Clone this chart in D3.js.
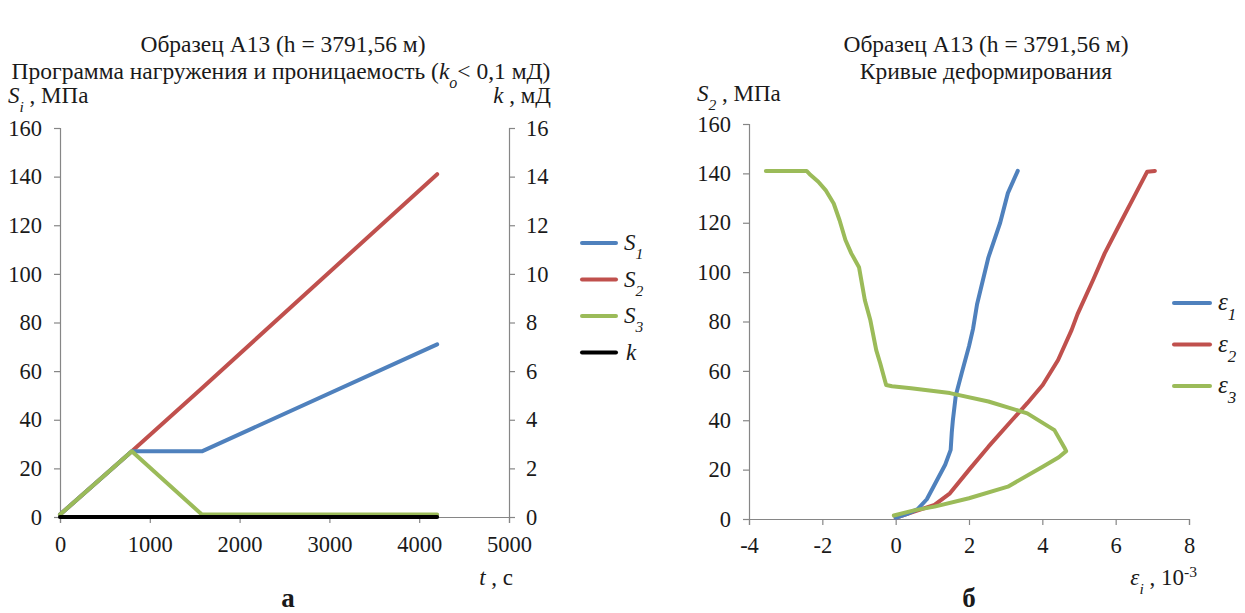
<!DOCTYPE html>
<html><head><meta charset="utf-8">
<script src="https://cdn.jsdelivr.net/npm/d3@7"></script>
</head>
<body style="margin:0;background:#fff"><svg id="c" width="1245" height="613" style="background:#fff"></svg>
<script>
// ---- Left chart data: loading program ----
const timeS = [0, 800, 1580, 4200];
const s1Vals = [1, 27, 27, 71];
const s2Vals = [1, 27, 53, 141];
const s3Vals = [1, 27, 1, 1];
const timeK = [0, 4200];
const kVals = [0, 0];
const tTicks = [0, 1000, 2000, 3000, 4000, 5000];
const sTicks = [0, 20, 40, 60, 80, 100, 120, 140, 160];
const kTicks = [0, 2, 4, 6, 8, 10, 12, 14, 16];

// ---- Right chart data: deformation curves ----
const eps1X = [0, 0.3, 0.6, 0.85, 1.1, 1.35, 1.5, 1.53, 1.56, 1.64, 1.8, 2.0, 2.11, 2.22, 2.53, 2.85, 3.06, 3.33];
const eps1Y = [0.5, 2, 4, 8, 15, 22, 28, 35, 40, 50, 59, 70, 77, 87, 106, 120, 132, 141];
const eps2X = [0, 0.5, 1.06, 1.48, 2.0, 2.53, 3.17, 3.59, 4.01, 4.43, 4.8, 4.96, 5.39, 5.7, 6.12, 6.55, 6.86, 7.07];
const eps2Y = [0.5, 3, 5.7, 10.4, 19.9, 29.3, 40, 46.9, 54.3, 64.4, 76.6, 83, 97, 107.6, 119.7, 131.9, 140.7, 141];
const eps3X = [-0.05, 0.5, 1.06, 2.0, 3.06, 4.01, 4.45, 4.65, 4.6, 4.33, 3.59, 2.53, 1.48, 0.42, -0.1, -0.26, -0.42, -0.53, -0.69, -0.84, -1.0, -1.21, -1.37, -1.53, -1.69, -1.9, -2.11, -2.32, -2.43, -3.54];
const eps3Y = [1.4, 3.5, 5, 8.4, 13.1, 21.2, 25, 27.5, 29, 36, 42.8, 47.6, 51, 53, 53.8, 54.3, 63, 68.4, 80.5, 88.6, 102, 107.6, 113, 121, 127.8, 133, 136.6, 139.3, 141, 141];
const epsTicks = [-4, -2, 0, 2, 4, 6, 8];

const C_BLUE = "#4F81BD", C_RED = "#C0504D", C_GREEN = "#9BBB59", C_BLACK = "#000";
const AXIS = "#868686";
const FONT = "'Liberation Serif'";
const TICK_FS = 22.5;
const svg = d3.select("#c");

function styleAxis(g){
  g.attr("font-family", null).attr("font-size", null);
  g.selectAll("path.domain").attr("stroke", AXIS).attr("stroke-width", 1.2);
  g.selectAll(".tick line").attr("stroke", AXIS).attr("stroke-width", 1.2);
  g.selectAll(".tick text").style("font-family", FONT).style("font-size", TICK_FS + "px").attr("fill", "#1a1a1a");
}
function addText(x, y, parts, anchor, size){
  size = size || 23;
  const t = svg.append("text").attr("x", x).attr("y", y).attr("text-anchor", anchor || "start")
    .style("font-family", FONT).style("font-size", size + "px").attr("fill", "#1a1a1a");
  parts.forEach(p => {
    const ts = t.append("tspan").text(p.t).style("font-family", FONT);
    if (p.i) ts.style("font-style", "italic");
    if (p.b) ts.style("font-weight", "bold");
    if (p.sub) ts.style("font-size", (size*0.68) + "px").attr("baseline-shift", "sub");
    if (p.sup) ts.style("font-size", (size*0.68) + "px").attr("baseline-shift", "super");
  });
  return t;
}

// ===== LEFT CHART =====
const L = {x0: 60, x1: 509, y0: 517, y1: 128};
const xT = d3.scaleLinear().domain([0, 5000]).range([L.x0, L.x1]);
const yS = d3.scaleLinear().domain([0, 160]).range([L.y0, L.y1]);
const yK = d3.scaleLinear().domain([0, 16]).range([L.y0, L.y1]);

const gxL = svg.append("g").attr("transform", `translate(0,${L.y0})`)
  .call(d3.axisBottom(xT).tickValues(tTicks).tickSize(6).tickPadding(13).tickFormat(d3.format("d")));
styleAxis(gxL);
const gyL = svg.append("g").attr("transform", `translate(${L.x0},0)`)
  .call(d3.axisLeft(yS).tickValues(sTicks).tickSize(6).tickPadding(12));
styleAxis(gyL);
const gyR = svg.append("g").attr("transform", `translate(${L.x1},0)`)
  .call(d3.axisRight(yK).tickValues(kTicks).tickSize(6).tickPadding(11));
styleAxis(gyR);

const lineL = (xs, ys, ysc) => d3.line().x((d,i)=>xT(xs[i])).y((d,i)=>ysc(ys[i]))(xs);
const leftSeries = [
  {x: timeS, y: s2Vals, sc: yS, c: C_RED},
  {x: timeS, y: s1Vals, sc: yS, c: C_BLUE},
  {x: timeS, y: s3Vals, sc: yS, c: C_GREEN},
  {x: timeK, y: kVals, sc: yK, c: C_BLACK}
];
leftSeries.forEach(s => {
  svg.append("path").attr("d", lineL(s.x, s.y, s.sc)).attr("fill", "none")
    .attr("stroke", s.c).attr("stroke-width", 4).attr("stroke-linejoin", "round").attr("stroke-linecap", "round");
});

// legend left
const legL = [
  {c: C_BLUE, n: "1"}, {c: C_RED, n: "2"}, {c: C_GREEN, n: "3"}, {c: C_BLACK, n: null}
];
legL.forEach((d, i) => {
  const y = 243 + i * 36.5;
  svg.append("line").attr("x1", 582).attr("x2", 616).attr("y1", y).attr("y2", y)
    .attr("stroke", d.c).attr("stroke-width", 4).attr("stroke-linecap", "round");
  if (d.n) addText(624, y + 7, [{t: "S", i: true}, {t: d.n, i: true, sub: true}]);
  else addText(626, y + 7, [{t: "k", i: true}]);
});

// titles left
addText(283, 52, [{t: "Образец А13 (h = 3791,56 м)"}], "middle", 23.5);
addText(281, 79, [{t: "Программа нагружения и проницаемость ("}, {t: "k", i: true}, {t: "o", i: true, sub: true}, {t: "< 0,1 мД)"}], "middle", 23.5);
addText(8, 103, [{t: "S", i: true}, {t: "i", i: true, sub: true}, {t: " , МПа"}]);
addText(551, 103, [{t: "k", i: true}, {t: " , мД"}], "end");
addText(513, 585, [{t: "t", i: true}, {t: " , с"}], "end");
addText(288, 607, [{t: "а", b: true}], "middle", 27);

// ===== RIGHT CHART =====
const R = {x0: 749, x1: 1189, y0: 519, y1: 124};
const xE = d3.scaleLinear().domain([-4, 8]).range([R.x0, R.x1]);
const yR = d3.scaleLinear().domain([0, 160]).range([R.y0, R.y1]);

const gxR = svg.append("g").attr("transform", `translate(0,${R.y0})`)
  .call(d3.axisBottom(xE).tickValues(epsTicks).tickSize(6).tickPadding(12).tickFormat(d => d < 0 ? "-" + Math.abs(d) : String(d)));
styleAxis(gxR);
const gyR2 = svg.append("g").attr("transform", `translate(${R.x0},0)`)
  .call(d3.axisLeft(yR).tickValues(sTicks).tickSize(6).tickPadding(12));
styleAxis(gyR2);

const lineR = (xs, ys) => d3.line().x((d,i)=>xE(xs[i])).y((d,i)=>yR(ys[i]))(xs);
[{x: eps2X, y: eps2Y, c: C_RED}, {x: eps1X, y: eps1Y, c: C_BLUE}, {x: eps3X, y: eps3Y, c: C_GREEN}].forEach(s => {
  svg.append("path").attr("d", lineR(s.x, s.y)).attr("fill", "none")
    .attr("stroke", s.c).attr("stroke-width", 4).attr("stroke-linejoin", "round").attr("stroke-linecap", "round");
});

const legR = [{c: C_BLUE, n: "1"}, {c: C_RED, n: "2"}, {c: C_GREEN, n: "3"}];
legR.forEach((d, i) => {
  const y = 303 + i * 41.5;
  svg.append("line").attr("x1", 1174).attr("x2", 1210).attr("y1", y).attr("y2", y)
    .attr("stroke", d.c).attr("stroke-width", 4).attr("stroke-linecap", "round");
  addText(1218, y + 7, [{t: "ε", i: true}, {t: d.n, i: true, sub: true}], "start", 25);
});

addText(986, 52, [{t: "Образец А13 (h = 3791,56  м)"}], "middle", 23.5);
addText(986, 79, [{t: "Кривые деформирования"}], "middle", 23.5);
addText(697, 101, [{t: "S", i: true}, {t: "2", i: true, sub: true}, {t: " , МПа"}]);
addText(1197, 585, [{t: "ε", i: true}, {t: "i", i: true, sub: true}, {t: " , 10"}, {t: "-3", sup: true}], "end");
addText(969, 607, [{t: "б", b: true}], "middle", 27);
</script></body></html>
